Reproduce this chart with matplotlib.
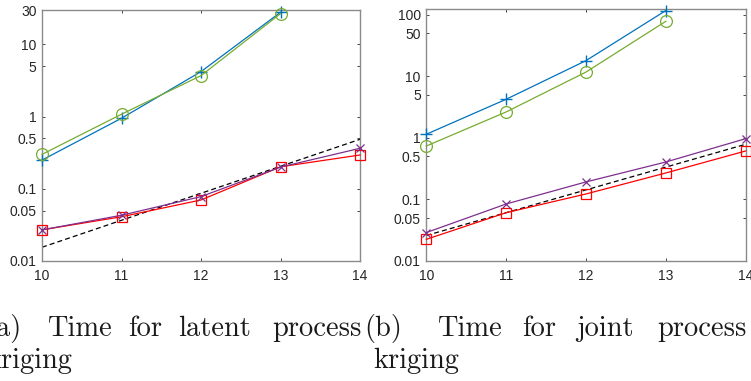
import matplotlib
matplotlib.use("Agg")
import matplotlib.pyplot as plt

# ---- data ----
x = [10, 11, 12, 13, 14]
x_ref = [10, 14]

# (a) latent process kriging
a_blue = [0.25, 0.95, 4.2, 27.9]
a_green = [0.30, 1.08, 3.7, 26.7]
a_red = [0.027, 0.041, 0.070, 0.202, 0.294]
a_purple = [0.027, 0.043, 0.078, 0.200, 0.364]
a_ref = [0.0155, 0.485]

# (b) joint process kriging
b_blue = [1.15, 4.26, 18.1, 118.0]
b_green = [0.74, 2.65, 11.8, 78.9]
b_red = [0.0225, 0.061, 0.123, 0.27, 0.615]
b_purple = [0.029, 0.0845, 0.193, 0.407, 0.975]
b_ref = [0.026, 0.79]

xticks = [10, 11, 12, 13, 14]
xticklabels = ["10", "11", "12", "13", "14"]
a_yticks = [0.01, 0.05, 0.1, 0.5, 1, 5, 10, 30]
a_yticklabels = ["0.01", "0.05", "0.1", "0.5", "1", "5", "10", "30"]
b_yticks = [0.01, 0.05, 0.1, 0.5, 1, 5, 10, 50, 100]
b_yticklabels = ["0.01", "0.05", "0.1", "0.5", "1", "5", "10", "50", "100"]
a_ylim = (0.01, 30)
b_ylim = (0.01, 125)

caption_a1 = [("(a)", 21, "right"), ("Time", 47, "left"), ("for", 128, "left"),
              ("latent", 178, "left"), ("process", 362, "right")]
caption_a2 = [("kriging", 72, "right")]
caption_b1 = [("(b)", 364, "left"), ("Time", 437, "left"), ("for", 522, "left"),
              ("joint", 576, "left"), ("process", 747, "right")]
caption_b2 = [("kriging", 373, "left")]

# ---- style ----
W, H = 751, 381
fig = plt.figure(figsize=(W / 100, H / 100), dpi=100)

BLUE = "#0072BD"
GREEN = "#77AC30"
PURPLE = "#7E2F8E"
RED = "#FF0000"

def setup(ax, yticks, yticklabels, ylim):
    ax.set_yscale("log")
    ax.set_xlim(10, 14)
    ax.set_ylim(*ylim)
    ax.set_xticks(xticks)
    ax.set_xticklabels(xticklabels)
    ax.set_yticks(yticks)
    ax.set_yticklabels(yticklabels)
    ax.minorticks_off()
    ax.tick_params(which="both", direction="in", length=2.4, width=0.6,
                   color="#262626", top=True, right=True,
                   labelsize=10, labelcolor="#262626")
    ax.tick_params(axis="x", pad=5.5)
    ax.tick_params(axis="y", pad=4)
    for lab in ax.get_xticklabels() + ax.get_yticklabels():
        lab.set_fontfamily("Liberation Sans")
    for s in ax.spines.values():
        s.set_color("#8a8a8a")
        s.set_linewidth(1.0)

def draw(ax, blue, green, red, purple, ref):
    lw = 0.9
    ax.plot(x[:len(blue)], blue, color=BLUE, lw=lw, marker="+", ms=8.5, mew=1.0, clip_on=False, zorder=3)
    ax.plot(x[:len(green)], green, color=GREEN, lw=lw, marker="o", ms=8.5, mfc="none", mew=0.9, clip_on=False, zorder=3)
    ax.plot(x, red, color=RED, lw=lw, marker="s", ms=7.5, mfc="none", mew=0.9, clip_on=False, zorder=3)
    ax.plot(x, purple, color=PURPLE, lw=lw, marker="x", ms=6, mew=0.9, clip_on=False, zorder=3)
    ax.plot(x_ref, ref, color="black", lw=0.9, ls=(0, (4, 2.5)), zorder=2)

axa = fig.add_axes([42 / W, 1 - 261 / H, 318 / W, 251 / H])
axb = fig.add_axes([426.3 / W, 1 - 261 / H, 319.4 / W, 252 / H])

setup(axa, a_yticks, a_yticklabels, a_ylim)
setup(axb, b_yticks, b_yticklabels, b_ylim)
draw(axa, a_blue, a_green, a_red, a_purple, a_ref)
draw(axb, b_blue, b_green, b_red, b_purple, b_ref)

fs = 20.5
for words, base in ((caption_a1, 336), (caption_b1, 336), (caption_a2, 368), (caption_b2, 368)):
    for w, xp, ha in words:
        fig.text(xp / W, 1 - base / H, w, ha=ha, va="baseline",
                 fontsize=fs, family="cmr10", color="#1a1a1a")

fig.savefig("out.png", dpi=100)
